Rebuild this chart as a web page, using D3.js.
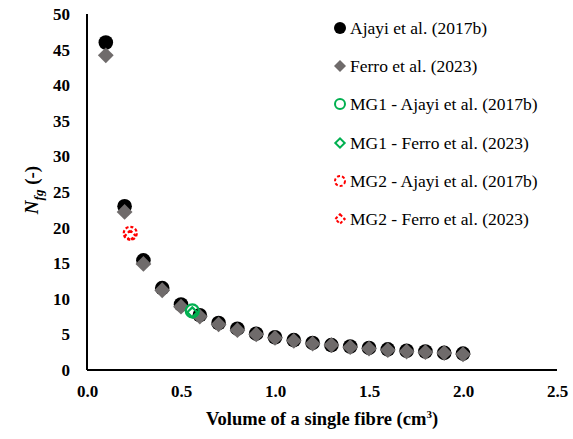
<!DOCTYPE html>
<html>
<head>
<meta charset="utf-8">
<script src="https://cdn.jsdelivr.net/npm/d3@7"></script>
</head>
<body style="margin:0;background:#fff;font-family:'Liberation Serif','Times New Roman',Tinos">
<script>
// fibre volume (cm3)
const volumes = [0.1, 0.2, 0.3, 0.4, 0.5, 0.6, 0.7, 0.8, 0.9, 1.0, 1.1, 1.2, 1.3, 1.4, 1.5, 1.6, 1.7, 1.8, 1.9, 2.0];
const ajayi = [46.0, 23.0, 15.4, 11.5, 9.2, 7.7, 6.6, 5.8, 5.1, 4.6, 4.2, 3.8, 3.5, 3.3, 3.1, 2.9, 2.7, 2.6, 2.4, 2.3];
const ferro = [44.2, 22.2, 14.9, 11.2, 8.9, 7.5, 6.4, 5.6, 5.0, 4.5, 4.1, 3.7, 3.5, 3.2, 3.0, 2.8, 2.6, 2.5, 2.4, 2.2];
const mg1 = {v: 0.56, ajayi: 8.3, ferro: 8.1};
const mg2 = {v: 0.23, ajayi: 19.2, ferro: 18.9};
const xTicks = [0, 0.5, 1.0, 1.5, 2.0, 2.5];
const yTicks = [0, 5, 10, 15, 20, 25, 30, 35, 40, 45, 50];
const legendLabels = ["Ajayi et al. (2017b)", "Ferro et al. (2023)", "MG1 - Ajayi et al. (2017b)",
                      "MG1 - Ferro et al. (2023)", "MG2 - Ajayi et al. (2017b)", "MG2 - Ferro et al. (2023)"];

const width = 573, height = 439;
const black = "#000", grey = "#6f6b6b", green = "#00b050", red = "#ff0000";

const svg = d3.select("body").append("svg")
  .attr("width", width).attr("height", height);

const x = d3.scaleLinear().domain([0, 2.5]).range([87, 557]);
const y = d3.scaleLinear().domain([0, 50]).range([370, 14]);

// helper: serif text, same way the font test rendered correctly
function serifText(sel) {
  return sel.style("font-family", '"Times New Roman"');
}

// axes drawn with d3 axes, then labels re-styled
const xAxis = svg.append("g").attr("transform", "translate(0,370)")
  .call(d3.axisBottom(x).tickValues(xTicks).tickSize(0).tickPadding(15).tickFormat(d3.format(".1f")));
const yAxis = svg.append("g").attr("transform", "translate(87,0)")
  .call(d3.axisLeft(y).tickValues(yTicks).tickSize(0).tickPadding(17));
[xAxis, yAxis].forEach(a => {
  a.attr("font-family", null).attr("font-size", null);
  a.select(".domain").attr("stroke", "#000").attr("stroke-width", 2);
  serifText(a.selectAll("text")).attr("font-size", 17).attr("font-weight", "bold").attr("fill", "#000");
});
xAxis.select(".domain").attr("d", `M${x.range()[0]},0H${x.range()[1]}`);
yAxis.select(".domain").attr("d", `M0,${y.range()[0]}V${y.range()[1]}`);

// titles
const xt = serifText(svg.append("text")).attr("x", 322).attr("y", 425).attr("text-anchor", "middle")
  .attr("font-size", 18.5).attr("font-weight", "bold");
xt.append("tspan").text("Volume of a single fibre (cm");
xt.append("tspan").text("3").attr("font-size", 11).attr("dy", -7);
xt.append("tspan").text(")").attr("dy", 7);

const yt = serifText(svg.append("text")).attr("transform", "translate(38,190) rotate(-90)")
  .attr("text-anchor", "middle").attr("font-size", 19).attr("font-weight", "bold");
yt.append("tspan").text("N").attr("font-style", "italic");
yt.append("tspan").text("fg").attr("font-style", "italic").attr("font-size", 13).attr("dy", 5);
yt.append("tspan").text(" (-)").attr("dy", -5);

const diamond = d3.symbol().type(d3.symbolSquare);

// Ajayi circles then Ferro diamonds
const pts = volumes.map((v, i) => ({v, a: ajayi[i], f: ferro[i]}));
svg.append("g").selectAll("circle").data(pts).enter().append("circle")
  .attr("cx", d => x(d.v)).attr("cy", d => y(d.a)).attr("r", 7.3).attr("fill", black);
svg.append("g").selectAll("path").data(pts).enter().append("path")
  .attr("d", diamond.size(125))
  .attr("transform", d => `translate(${x(d.v)},${y(d.f)}) rotate(45)`)
  .attr("fill", grey);

// MG points
svg.append("circle").attr("cx", x(mg1.v)).attr("cy", y(mg1.ajayi)).attr("r", 6.5)
  .attr("fill", "none").attr("stroke", green).attr("stroke-width", 2.2);
svg.append("path").attr("d", diamond.size(50))
  .attr("transform", `translate(${x(mg1.v)},${y(mg1.ferro)}) rotate(45)`)
  .attr("fill", "none").attr("stroke", green).attr("stroke-width", 2.2);
svg.append("circle").attr("cx", x(mg2.v)).attr("cy", y(mg2.ajayi)).attr("r", 6.5)
  .attr("fill", "none").attr("stroke", red).attr("stroke-width", 2.2).attr("stroke-dasharray", "3,2");
svg.append("path").attr("d", diamond.size(50))
  .attr("transform", `translate(${x(mg2.v)},${y(mg2.ferro)}) rotate(45)`)
  .attr("fill", "none").attr("stroke", red).attr("stroke-width", 2.2).attr("stroke-dasharray", "3,2");

// legend
const legendY = [28, 66, 104, 143, 181, 219];
legendLabels.forEach((lab, i) => {
  const cx = 340, cy = legendY[i];
  if (i === 0) svg.append("circle").attr("cx", cx).attr("cy", cy).attr("r", 6).attr("fill", black);
  if (i === 1) svg.append("path").attr("d", diamond.size(72))
    .attr("transform", `translate(${cx},${cy}) rotate(45)`).attr("fill", grey);
  if (i === 2 || i === 4) svg.append("circle").attr("cx", cx).attr("cy", cy).attr("r", 5)
    .attr("fill", "none").attr("stroke", i === 2 ? green : red).attr("stroke-width", 2)
    .attr("stroke-dasharray", i === 4 ? "3,2" : null);
  if (i === 3 || i === 5) svg.append("path").attr("d", diamond.size(44))
    .attr("transform", `translate(${cx},${cy}) rotate(45)`)
    .attr("fill", "none").attr("stroke", i === 3 ? green : red).attr("stroke-width", 2)
    .attr("stroke-dasharray", i === 5 ? "3,2" : null);
  serifText(svg.append("text")).attr("x", 350).attr("y", cy + 6).attr("font-size", 17.5).text(lab);
});
</script>
</body>
</html>
